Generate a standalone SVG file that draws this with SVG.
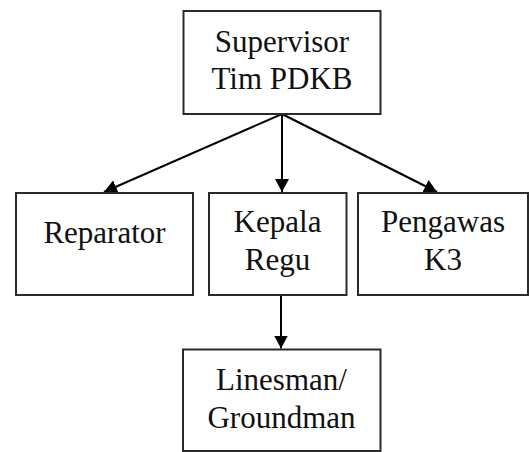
<svg xmlns="http://www.w3.org/2000/svg" width="529" height="452" viewBox="0 0 529 452">
<defs>
<style>
.box{fill:#fff;stroke:#2a2a2a;stroke-width:2}
.lbl{font-family:"Liberation Serif","Times New Roman",serif;font-size:31px;fill:#111;text-anchor:middle}
.conn{stroke:#000;stroke-width:2;fill:none}
</style>
<marker id="ah" markerUnits="userSpaceOnUse" markerWidth="14" markerHeight="14" refX="13" refY="7" orient="auto">
<path d="M0,0 L13,7 L0,14 z" fill="#000"/>
</marker>
</defs>
<rect width="529" height="452" fill="#fff"/>
<g id="connectors">
<line class="conn" x1="282" y1="114" x2="104" y2="192" marker-end="url(#ah)"/>
<line class="conn" x1="282" y1="114" x2="282" y2="192" marker-end="url(#ah)"/>
<line class="conn" x1="282" y1="114" x2="437" y2="192" marker-end="url(#ah)"/>
<line class="conn" x1="281" y1="295" x2="281" y2="348.5" marker-end="url(#ah)"/>
</g>
<g id="supervisor">
<rect class="box" x="183.5" y="11" width="197" height="103"/>
<text class="lbl" x="282" y="52">Supervisor</text>
<text class="lbl" x="282" y="89">Tim PDKB</text>
</g>
<g id="reparator">
<rect class="box" x="16" y="193" width="177" height="102"/>
<text class="lbl" x="104.5" y="243">Reparator</text>
</g>
<g id="kepala-regu">
<rect class="box" x="209" y="193" width="137.5" height="102"/>
<text class="lbl" x="277.5" y="232">Kepala</text>
<text class="lbl" x="277.5" y="270">Regu</text>
</g>
<g id="pengawas-k3">
<rect class="box" x="358" y="193" width="170" height="102"/>
<text class="lbl" x="443" y="232">Pengawas</text>
<text class="lbl" x="443" y="270">K3</text>
</g>
<g id="linesman">
<rect class="box" x="183" y="349.5" width="197.5" height="101.5"/>
<text class="lbl" x="281.5" y="390">Linesman/</text>
<text class="lbl" x="281.5" y="428">Groundman</text>
</g>
</svg>
